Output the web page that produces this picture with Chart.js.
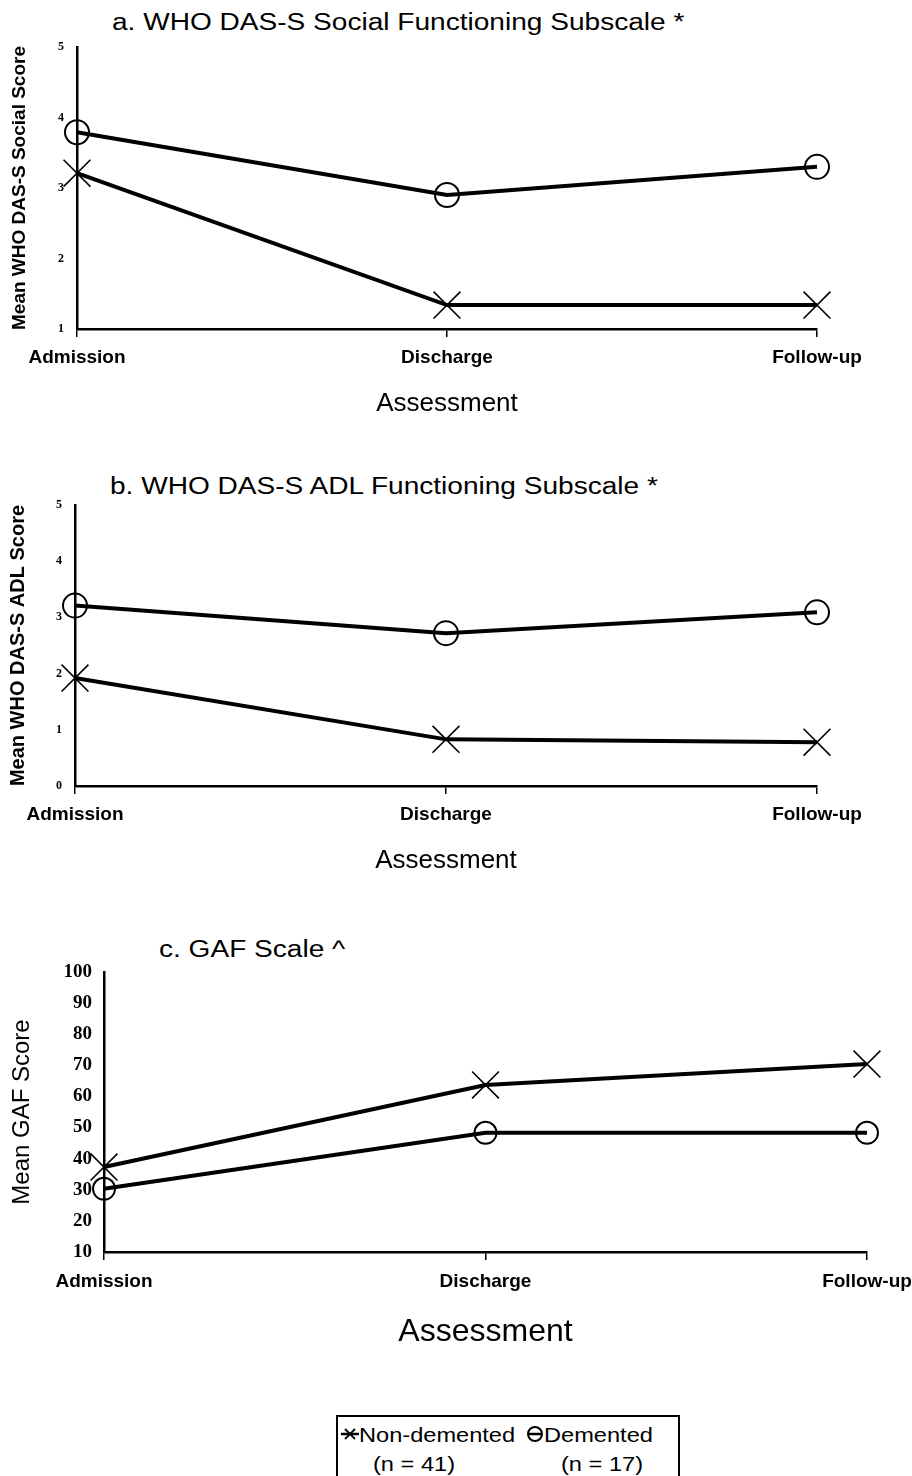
<!DOCTYPE html>
<html>
<head>
<meta charset="utf-8">
<script src="https://cdn.jsdelivr.net/npm/chart.js@4.4.0/dist/chart.umd.min.js"></script>
<style>
html,body{margin:0;padding:0;background:#fff;}
body{width:912px;height:1476px;position:relative;overflow:hidden;font-family:"Liberation Sans",Arial,sans-serif;color:#000;}
canvas{position:absolute;left:0;}
.title{position:absolute;white-space:nowrap;font-size:23px;line-height:1;transform:scaleX(1.22);transform-origin:0 0;}
#legend{position:absolute;left:336px;top:1415px;width:344px;height:80px;border:2px solid #000;box-sizing:border-box;font-size:20px;line-height:1;}
#legend .it{position:absolute;white-space:nowrap;transform:scaleX(1.18);transform-origin:0 0;}
#legend svg{position:absolute;}
</style>
</head>
<body>
<div class="title" style="left:112px;top:11px">a. WHO DAS-S Social Functioning Subscale *</div>
<div class="title" style="left:110px;top:475px">b. WHO DAS-S ADL Functioning Subscale *</div>
<div class="title" style="left:159px;top:938px">c. GAF Scale ^</div>

<canvas id="chartA" width="912" height="440" style="top:0px"></canvas>
<canvas id="chartB" width="912" height="460" style="top:440px"></canvas>
<canvas id="chartC" width="912" height="460" style="top:900px"></canvas>

<div id="legend">
  <svg width="18" height="16" style="left:3px;top:9px"><line x1="0" y1="8" x2="18" y2="8" stroke="#000" stroke-width="2.5"/><line x1="4" y1="3" x2="14" y2="13" stroke="#000" stroke-width="1.8"/><line x1="14" y1="3" x2="4" y2="13" stroke="#000" stroke-width="1.8"/></svg>
  <div class="it" style="left:21px;top:8px">Non-demented</div>
  <div class="it" style="left:35px;top:37px">(n = 41)</div>
  <svg width="18" height="16" style="left:188px;top:9px"><circle cx="9" cy="8" r="7" fill="none" stroke="#000" stroke-width="2"/><line x1="2" y1="8" x2="16" y2="8" stroke="#000" stroke-width="2.5"/></svg>
  <div class="it" style="left:206px;top:8px">Demented</div>
  <div class="it" style="left:223px;top:37px">(n = 17)</div>
</div>

<script>
// ---- data ----
const categories = ['Admission', 'Discharge', 'Follow-up'];
const seriesNames = ['Non-demented', 'Demented'];
const socialNonDemented = [3.21, 1.34, 1.34];
const socialDemented = [3.79, 2.90, 3.30];
const adlNonDemented = [1.92, 0.83, 0.78];
const adlDemented = [3.21, 2.72, 3.09];
const gafNonDemented = [37.3, 63.7, 70.4];
const gafDemented = [30.3, 48.3, 48.3];

const SANS = '"Liberation Sans", Arial, sans-serif';
const SERIF = '"Liberation Serif", "Times New Roman", serif';

function nonStyle() {
  return { borderColor: '#000', borderWidth: 4, pointStyle: 'crossRot', pointRadius: 19,
    pointBorderColor: '#000', pointBorderWidth: 1.6, pointBackgroundColor: 'rgba(0,0,0,0)',
    fill: false, tension: 0, clip: false };
}
function demStyle(r) {
  return { borderColor: '#000', borderWidth: 4, pointStyle: 'circle', pointRadius: r,
    pointBorderColor: '#000', pointBorderWidth: 2, pointBackgroundColor: 'rgba(0,0,0,0)',
    fill: false, tension: 0, clip: false };
}

function makeChart(id, o) {
  return new Chart(document.getElementById(id), {
    type: 'line',
    data: {
      labels: categories,
      datasets: [
        Object.assign({ label: seriesNames[0], data: o.non }, nonStyle()),
        Object.assign({ label: seriesNames[1], data: o.dem }, demStyle(o.circleR))
      ]
    },
    options: {
      responsive: false, animation: false, devicePixelRatio: 1,
      layout: { padding: { top: o.padTop, right: o.padRight, left: 0, bottom: 0 } },
      plugins: { legend: { display: false }, tooltip: { enabled: false }, title: { display: false } },
      scales: {
        x: {
          type: 'category', offset: false,
          grid: { display: true, drawOnChartArea: false, drawTicks: true, tickLength: 8, color: '#000', lineWidth: 1.5 },
          border: { display: true, color: '#000', width: 2.5 },
          ticks: { color: '#000', font: { family: SANS, size: o.xTickSize, weight: 'bold' }, padding: o.xTickPad,
            maxRotation: 0, minRotation: 0, autoSkip: false },
          title: { display: true, text: 'Assessment', color: '#000', font: { family: SANS, size: o.xTitleSize },
            padding: { top: 0, bottom: o.xTitlePad } },
          afterFit: s => { s.height = o.xHeight; s.paddingLeft = 0; s.paddingRight = 0; }
        },
        y: {
          min: o.min, max: o.max,
          grid: { display: false, drawTicks: false },
          border: { display: true, color: '#000', width: 2.5 },
          ticks: { stepSize: o.step, color: '#000', font: o.yTickFont, padding: o.yTickPad },
          title: { display: true, text: o.yTitle, color: '#000', font: o.yTitleFont, padding: { top: o.yTitlePad, bottom: 0 } },
          afterFit: s => { s.width = o.yWidth; }
        }
      }
    }
  });
}

makeChart('chartA', {
  non: socialNonDemented, dem: socialDemented, circleR: 12,
  padTop: 47, padRight: 95, yWidth: 77, xHeight: 111,
  min: 1, max: 5, step: 1,
  yTickFont: { family: SERIF, size: 12, weight: 'bold' }, yTickPad: 13,
  yTitle: 'Mean WHO DAS-S Social Score', yTitleFont: { family: SANS, size: 19, weight: 'bold' }, yTitlePad: 8,
  xTickSize: 19, xTickPad: 9, xTitleSize: 26, xTitlePad: 21
});
makeChart('chartB', {
  non: adlNonDemented, dem: adlDemented, circleR: 12,
  padTop: 65, padRight: 95, yWidth: 75, xHeight: 114,
  min: 0, max: 5, step: 1,
  yTickFont: { family: SERIF, size: 12, weight: 'bold' }, yTickPad: 13,
  yTitle: 'Mean WHO DAS-S ADL Score', yTitleFont: { family: SANS, size: 20, weight: 'bold' }, yTitlePad: 6,
  xTickSize: 19, xTickPad: 9, xTitleSize: 26, xTitlePad: 24
});
makeChart('chartC', {
  non: gafNonDemented, dem: gafDemented, circleR: 11,
  padTop: 72, padRight: 45, yWidth: 104, xHeight: 108,
  min: 10, max: 100, step: 10,
  yTickFont: { family: SERIF, size: 19, weight: 'bold' }, yTickPad: 12,
  yTitle: 'Mean GAF Score', yTitleFont: { family: SANS, size: 24 }, yTitlePad: 8,
  xTickSize: 19, xTickPad: 10, xTitleSize: 32, xTitlePad: 9
});
</script>
</body>
</html>
